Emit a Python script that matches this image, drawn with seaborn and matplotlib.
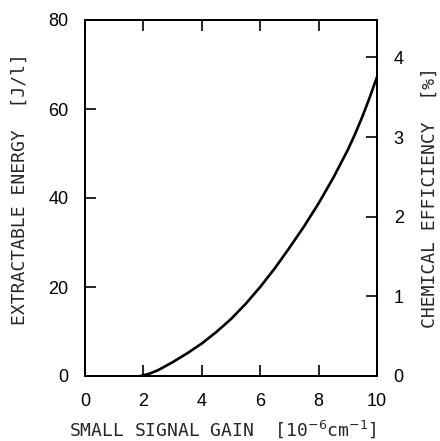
import matplotlib
matplotlib.use("Agg")
import matplotlib.pyplot as plt
import seaborn as sns
import pandas as pd

# Extractable energy vs small signal gain
gain = [1.9, 2.2, 2.5, 2.75, 3.0, 3.5, 4.0, 4.5, 5.0, 5.5, 6.0, 6.5, 7.0,
        7.5, 8.0, 8.5, 9.0, 9.25, 9.5, 9.75, 10.0]
energy = [0.0, 0.5, 1.3, 2.2, 3.1, 5.1, 7.3, 9.9, 12.8, 16.2, 20.0, 24.2, 28.8,
          33.6, 38.8, 44.5, 50.8, 54.4, 58.3, 62.6, 67.2]

x_ticks = [0, 2, 4, 6, 8, 10]
energy_ticks = [0, 20, 40, 60, 80]
eff_ticks = [0, 1, 2, 3, 4]
eff_max = 4.47  # chemical efficiency [%] at 80 J/l

sns.set_theme(style="ticks")
plt.rcParams["font.family"] = ["DejaVu Sans Mono", "DejaVu Sans"]
TICK_FONT = "Liberation Sans"

df = pd.DataFrame({"gain": gain, "energy": energy})

fig = plt.figure(figsize=(4.40, 4.41), dpi=100)
ax = fig.add_axes([85 / 440, 1 - 376 / 441, (377 - 85) / 440, (376 - 20) / 441])

sns.lineplot(data=df, x="gain", y="energy", ax=ax, color="black", linewidth=1.9)

ax.set_xlim(0, 10)
ax.set_ylim(0, 80)
ax.set_xticks(x_ticks)
ax.set_yticks(energy_ticks)
ax.tick_params(axis="both", which="major", direction="in", length=8, width=1.2,
               labelsize=13, colors="black")
ax.tick_params(axis="x", top=True, bottom=True, pad=12)
ax.tick_params(axis="y", left=True, pad=12)
for lab in ax.get_xticklabels() + ax.get_yticklabels():
    lab.set_fontfamily(TICK_FONT)
for s in ax.spines.values():
    s.set_linewidth(1.3)
    s.set_color("black")

ax.set_xlabel("SMALL SIGNAL GAIN  [10$^{-6}$cm$^{-1}$]", fontsize=13)
ax.xaxis.set_label_coords(0.47, -0.148)
ax.xaxis.label.set_va("center")
ax.set_ylabel("EXTRACTABLE ENERGY  [J/l]", fontsize=13)
ax.yaxis.set_label_coords(-0.223, 0.525)
ax.yaxis.label.set_va("center")

ax2 = ax.twinx()
ax2.set_ylim(0, eff_max)
ax2.set_yticks(eff_ticks)
ax2.tick_params(axis="y", direction="in", length=8, width=1.2, labelsize=13,
                colors="black", pad=12, right=True)
for lab in ax2.get_yticklabels():
    lab.set_fontfamily(TICK_FONT)
for s in ax2.spines.values():
    s.set_linewidth(1.3)
    s.set_color("black")
ax2.set_ylabel("CHEMICAL EFFICIENCY  [%]", fontsize=13, rotation=90)
ax2.yaxis.set_label_coords(1.181, 0.50)
ax2.yaxis.label.set_va("center")

fig.savefig("out.png", dpi=100, facecolor="white")
